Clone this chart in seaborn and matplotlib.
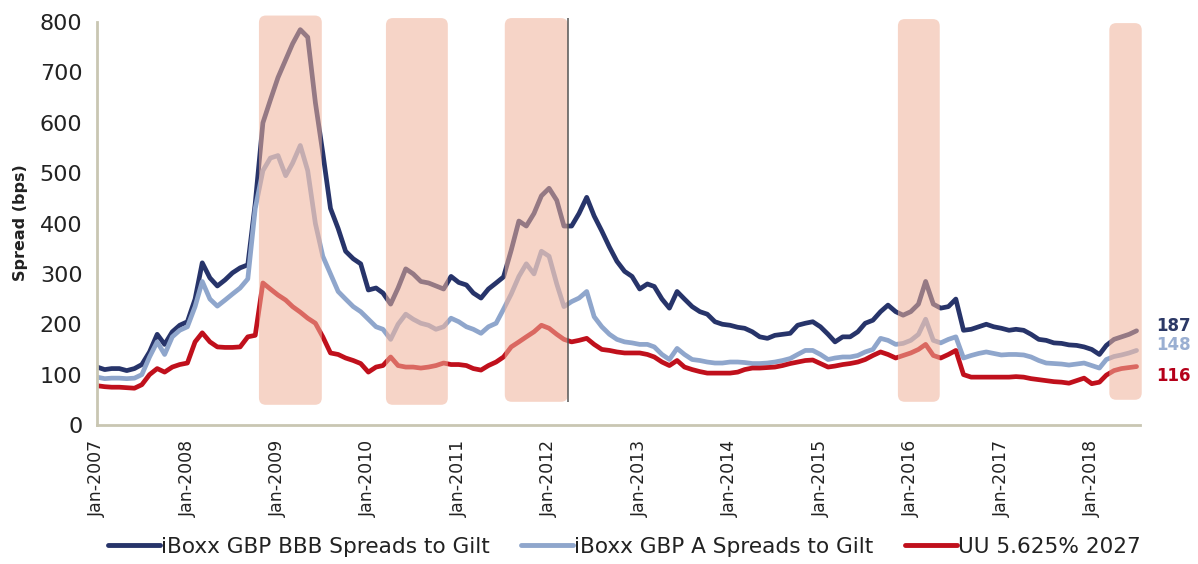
import numpy as np
import pandas as pd
import matplotlib
matplotlib.use("Agg")
import matplotlib.pyplot as plt
import matplotlib.dates as mdates
from matplotlib.patches import FancyBboxPatch
from matplotlib.lines import Line2D
import seaborn as sns

# ---------------- data (monthly, Jan-2007 .. Jul-2018) ----------------
bbb_spread = [
    115, 110, 112, 112, 108, 112, 120, 145, 180, 160, 185, 198,   # 2007
    205, 250, 322, 292, 276, 288, 302, 312, 318, 440, 600, 645,   # 2008
    690, 725, 757, 785, 770, 640, 540, 430, 390, 345, 330, 320,   # 2009
    268, 272, 262, 240, 272, 310, 300, 285, 282, 276, 270, 295,   # 2010
    283, 278, 262, 252, 270, 282, 294, 347, 405, 395, 420, 455,   # 2011
    470, 446, 395, 395, 420, 452, 415, 385, 353, 325, 305, 295,   # 2012
    270, 280, 275, 250, 232, 265, 250, 235, 225, 220, 205, 200,   # 2013
    198, 194, 192, 185, 175, 172, 178, 180, 182, 198, 202, 205,   # 2014
    195, 180, 165, 175, 175, 185, 202, 208, 225, 238, 225, 218,   # 2015
    225, 240, 285, 240, 232, 235, 250, 188, 190, 195, 200, 195,   # 2016
    192, 188, 190, 188, 180, 170, 168, 163, 162, 159, 158, 155,   # 2017
    150, 140, 158, 170, 175, 180, 187,                            # 2018
]
a_spread = [
    95, 92, 93, 93, 92, 93, 100, 135, 165, 140, 175, 188,         # 2007
    195, 235, 285, 250, 236, 248, 260, 272, 290, 430, 505, 530,   # 2008
    535, 495, 520, 555, 505, 400, 335, 300, 265, 250, 235, 225,   # 2009
    210, 195, 190, 170, 200, 220, 210, 202, 198, 190, 195, 212,   # 2010
    205, 195, 190, 182, 195, 202, 230, 260, 295, 320, 300, 345,   # 2011
    335, 280, 235, 245, 252, 265, 215, 195, 180, 170, 165, 163,   # 2012
    160, 160, 155, 140, 130, 152, 140, 130, 128, 125, 123, 123,   # 2013
    125, 125, 124, 122, 122, 123, 125, 128, 132, 140, 148, 148,   # 2014
    140, 130, 133, 135, 135, 138, 145, 150, 172, 168, 160, 162,   # 2015
    168, 180, 210, 168, 163, 170, 175, 133, 138, 142, 145, 142,   # 2016
    139, 140, 140, 139, 135, 128, 123, 122, 121, 119, 121, 123,   # 2017
    118, 113, 130, 136, 139, 143, 148,                            # 2018
]
uu_spread = [
    78, 76, 75, 75, 74, 73, 80, 100, 112, 105, 115, 120,          # 2007
    123, 165, 183, 165, 155, 154, 154, 155, 175, 178, 282, 270,   # 2008
    258, 248, 235, 224, 212, 202, 175, 143, 140, 133, 128, 122,   # 2009
    105, 115, 118, 135, 118, 115, 115, 113, 115, 118, 123, 120,   # 2010
    120, 118, 112, 109, 118, 125, 135, 155, 165, 175, 185, 198,   # 2011
    192, 180, 170, 165, 168, 172, 160, 150, 148, 145, 143, 143,   # 2012
    143, 140, 135, 125, 118, 128, 115, 110, 106, 103, 103, 103,   # 2013
    103, 105, 110, 113, 113, 114, 115, 118, 122, 125, 128, 129,   # 2014
    122, 115, 117, 120, 122, 125, 130, 138, 145, 140, 133, 138,   # 2015
    143, 150, 160, 138, 133, 140, 148, 100, 95, 95, 95, 95,       # 2016
    95, 95, 96, 95, 92, 90, 88, 86, 85, 83, 88, 93,               # 2017
    82, 85, 99, 108, 112, 114, 116,                               # 2018
]
series_names = ["iBoxx GBP BBB Spreads to Gilt",
                "iBoxx GBP A Spreads to Gilt",
                "UU 5.625% 2027"]
# stress periods shown as shaded boxes: (start, end)
shaded_periods = [("2008-10-16", "2009-06-27"),
                  ("2010-03-13", "2010-11-18"),
                  ("2011-07-06", "2012-03-17"),
                  ("2015-11-10", "2016-04-27"),
                  ("2018-03-13", "2018-07-22")]
tick_years = list(range(2007, 2019))

# ---------------- styling ----------------
colors = ["#27346A", "#8FA6CC", "#C0101C"]
label_colors = ["#2C3966", "#9AAFD2", "#B5001A"]
spine_col = "#C9C6B2"
text_col = "#222222"

sns.set_style("white")
plt.rcParams["font.family"] = ["DejaVu Sans"]

dates = pd.date_range("2007-01-01", periods=len(bbb_spread), freq="MS")
df = pd.concat([
    pd.DataFrame({"date": dates, "spread": vals, "series": name})
    for name, vals in zip(series_names, [bbb_spread, a_spread, uu_spread])
], ignore_index=True)

fig = plt.figure(figsize=(11.98, 5.64), dpi=100)
ax = fig.add_axes([0.081, 0.2465, 0.8706, 0.7322])

sns.lineplot(data=df, x="date", y="spread", hue="series", hue_order=series_names,
             palette=colors, linewidth=3.4, ax=ax, legend=False, zorder=2)

# shaded boxes (drawn over the lines, translucent)
box_bottoms = [40, 40, 46, 46, 50]
box_tops = [813, 808, 808, 806, 798]
for (s, e), b, t in zip(shaded_periods, box_bottoms, box_tops):
    x0 = mdates.date2num(pd.Timestamp(s))
    x1 = mdates.date2num(pd.Timestamp(e))
    p = FancyBboxPatch((x0, b), x1 - x0, t - b,
                       boxstyle="round,pad=0,rounding_size=28",
                       mutation_aspect=0.5, facecolor="#F0B29A", edgecolor="none",
                       alpha=0.55, zorder=3, clip_on=False)
    ax.add_patch(p)
ax.vlines(pd.Timestamp(shaded_periods[2][1]), 46, 808, colors="#555555",
          linewidth=1.1, zorder=4)

ax.set_xlim(pd.Timestamp("2007-01-01"), pd.Timestamp("2018-07-15"))
ax.set_ylim(0, 820)
ax.set_yticks(range(0, 801, 100))
ax.set_xticks([pd.Timestamp(f"{y}-01-01") for y in tick_years])
ax.set_xticklabels([f"Jan-{y}" for y in tick_years], rotation=90, fontsize=12.5,
                   color=text_col)
for lbl in ax.get_yticklabels():
    lbl.set_fontsize(16)
    lbl.set_color(text_col)

for side in ["top", "right"]:
    ax.spines[side].set_visible(False)
for side in ["left", "bottom"]:
    ax.spines[side].set_color(spine_col)
    ax.spines[side].set_linewidth(2)
ax.spines["left"].set_bounds(0, 800)
ax.tick_params(axis="both", direction="out", length=6, width=1.5,
               color=spine_col, pad=4.5)
ax.tick_params(axis="x", color="#8a8878")

ax.set_xlabel("")
ax.set_ylabel("Spread (bps)", fontsize=11.5, fontweight="bold", color=text_col)
ax.yaxis.set_label_coords(-0.066, 0.489)

# end-value labels
offsets = [3.6, 3.6, -6.5]
for vals, c, dy in zip([bbb_spread, a_spread, uu_spread], label_colors, offsets):
    ax.annotate(str(vals[-1]), xy=(dates[-1], vals[-1]), xytext=(14, dy),
                textcoords="offset points", ha="left", va="center",
                fontsize=12, fontweight="bold", color=c, annotation_clip=False)

handles = [Line2D([0], [0], color=c, lw=3.5) for c in colors]
fig.legend(handles, series_names, loc="center", bbox_to_anchor=(0.521, 0.03),
           ncol=3, frameon=False, fontsize=15.6, handlelength=2.4,
           handletextpad=0.05, columnspacing=1.45, labelcolor=text_col,
           borderpad=0.1)

fig.savefig("out.png", dpi=100)
